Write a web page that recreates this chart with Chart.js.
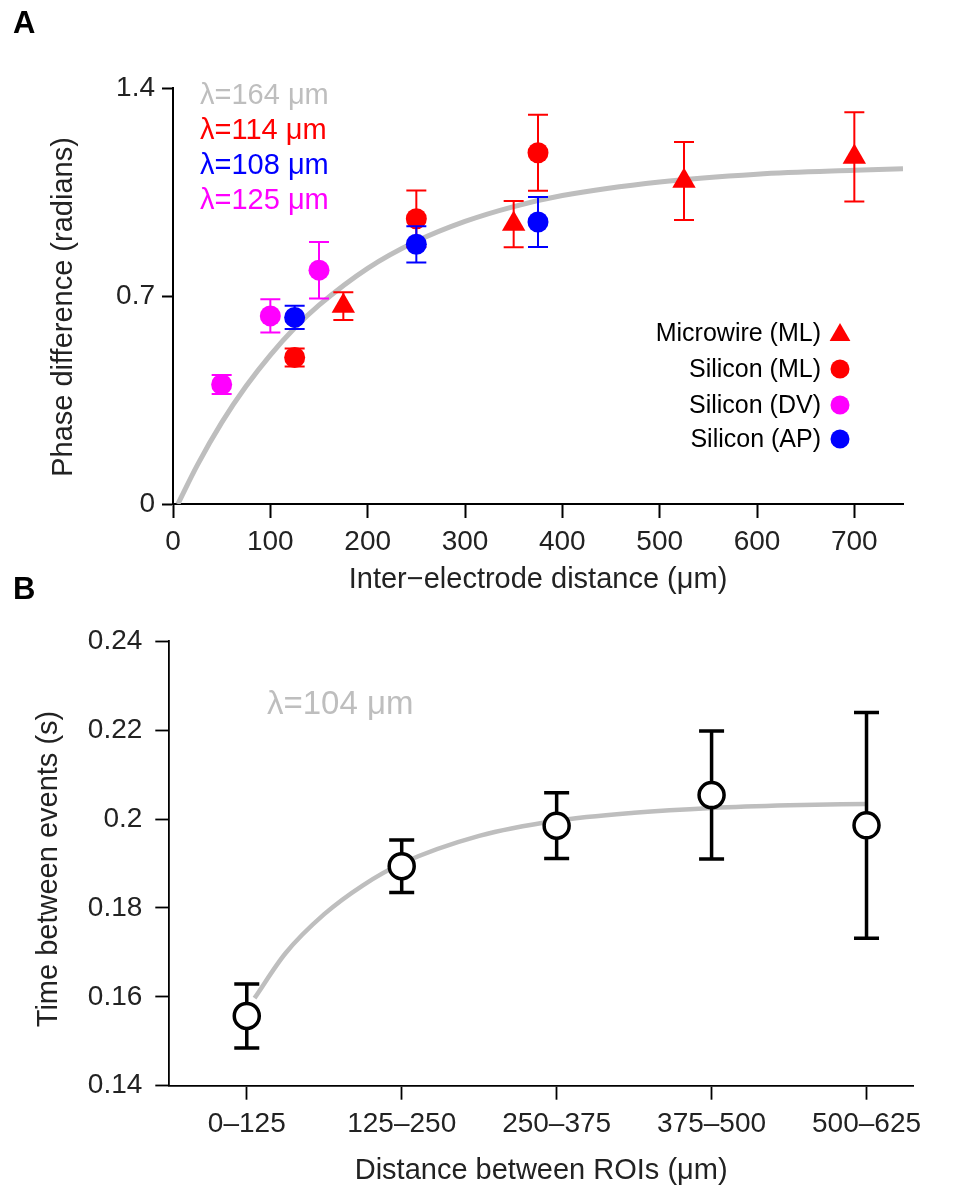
<!DOCTYPE html>
<html>
<head>
<meta charset="utf-8">
<script src="https://cdn.jsdelivr.net/npm/chart.js@4.4.1/dist/chart.umd.min.js"></script>
<style>
  body { margin: 0; background: #fff; }
  #wrap { position: relative; width: 978px; height: 1198px; }
  canvas { position: absolute; left: 0; }
  #chartA { top: 0; }
  #chartB { top: 600px; }
</style>
</head>
<body>
<div id="wrap">
  <canvas id="chartA" width="978" height="600"></canvas>
  <canvas id="chartB" width="978" height="598"></canvas>
</div>
<script>
// ---- panel A data ----
const aTicksX = [0, 100, 200, 300, 400, 500, 600, 700];
const aTicksY = [0, 0.7, 1.4];
const aTickLabelsY = ['0', '0.7', '1.4'];

const microDist = [175, 350, 525, 700];
const microPhase = [0.666, 0.942, 1.087, 1.168];
const microErr = [0.047, 0.078, 0.131, 0.15];

const siMLDist = [125, 250, 375];
const siMLPhase = [0.493, 0.96, 1.182];
const siMLErr = [0.03, 0.095, 0.128];

const siDVDist = [50, 100, 150];
const siDVPhase = [0.402, 0.633, 0.787];
const siDVErr = [0.032, 0.056, 0.095];

const siAPDist = [125, 250, 375];
const siAPPhase = [0.628, 0.874, 0.949];
const siAPErr = [0.039, 0.061, 0.084];

// grey fit curve
const fitADist = [5, 25, 50, 75, 100, 125, 150, 200, 250, 300, 350, 400, 500, 600, 700, 750];
const fitAPhase = [0, 0.131, 0.274, 0.396, 0.501, 0.592, 0.669, 0.793, 0.884, 0.951, 1.001, 1.038, 1.084, 1.11, 1.123, 1.128];

const lambdaTextA = ['λ=164 μm', 'λ=114 μm', 'λ=108 μm', 'λ=125 μm'];

// ---- panel B data ----
const bCategories = ['0–125', '125–250', '250–375', '375–500', '500–625'];
const bTime = [0.1557, 0.1894, 0.1985, 0.2054, 0.1986];
const bErr = [0.0072, 0.0059, 0.0074, 0.0144, 0.0254];
const bTicksY = [0.14, 0.16, 0.18, 0.2, 0.22, 0.24];
const bTickLabelsY = ['0.14', '0.16', '0.18', '0.2', '0.22', '0.24'];

const fitBPos = [0.05, 0.25, 0.5, 0.75, 1, 1.5, 2, 2.5, 3, 3.5, 4];
const fitBTime = [0.1597, 0.1698, 0.1786, 0.1851, 0.19, 0.1962, 0.1996, 0.2014, 0.2025, 0.2031, 0.2034];

const lambdaTextB = 'λ=104 μm';

const FONT = '"Liberation Sans", Arial, Helvetica, sans-serif';
const RED = '#ff0000', BLUE = '#0000ff', MAGENTA = '#ff00ff', GREY = '#bebebe', INK = '#222';
Chart.defaults.font.family = FONT;

function toPts(xs, ys) {
    return xs.map((x, i) => ({ x: x, y: ys[i] }));
}

// error bars drawn just before each dataset's points
const errorBars = {
    id: 'errorBars',
    beforeDatasetDraw(chart, args) {
        const ds = chart.data.datasets[args.index];
        if (!ds.errors) return;
        const ctx = chart.ctx;
        const xs = chart.scales.x, ys = chart.scales.y;
        ctx.save();
        ctx.strokeStyle = ds.errColor;
        ctx.lineWidth = ds.errWidth;
        ds.data.forEach((p, i) => {
            const px = xs.getPixelForValue(p.x);
            const top = ys.getPixelForValue(p.y + ds.errors[i]);
            const bot = ys.getPixelForValue(p.y - ds.errors[i]);
            ctx.beginPath();
            ctx.moveTo(px, top); ctx.lineTo(px, bot);
            ctx.moveTo(px - ds.capHalf, top); ctx.lineTo(px + ds.capHalf, top);
            ctx.moveTo(px - ds.capHalf, bot); ctx.lineTo(px + ds.capHalf, bot);
            ctx.stroke();
        });
        ctx.restore();
    }
};

function verticalTitle(ctx, text, x, y) {
    ctx.save();
    ctx.translate(x, y);
    ctx.rotate(-Math.PI / 2);
    ctx.textAlign = 'center';
    ctx.textBaseline = 'alphabetic';
    ctx.fillText(text, 0, 0);
    ctx.restore();
}

const notesA = {
    id: 'notesA',
    afterDraw(chart) {
        const ctx = chart.ctx;
        ctx.save();
        ctx.fillStyle = '#000';
        ctx.font = 'bold 31px ' + FONT;
        ctx.textAlign = 'left';
        ctx.textBaseline = 'alphabetic';
        ctx.fillText('A', 13, 33);
        ctx.fillText('B', 13, 599);

        ctx.fillStyle = INK;
        ctx.font = '29px ' + FONT;
        verticalTitle(ctx, 'Phase difference (radians)', 72, 307);

        // lambda values
        const lamColors = [GREY, RED, BLUE, MAGENTA];
        const lamBase = [104, 139, 174, 209];
        ctx.font = '29px ' + FONT;
        ctx.textAlign = 'left';
        lambdaTextA.forEach((t, i) => {
            ctx.fillStyle = lamColors[i];
            ctx.fillText(t, 200, lamBase[i]);
        });

        // legend: text right-aligned, marker on the right
        const rows = [341, 377, 413, 447];
        ctx.font = '25px ' + FONT;
        ctx.textAlign = 'right';
        for (let i = 0; i < 4; i++) {
            const ds = chart.data.datasets[i];
            ctx.fillStyle = '#000';
            ctx.fillText(ds.label, 821, rows[i]);
            ctx.fillStyle = ds.pointBackgroundColor;
            const tri = ds.pointStyle === 'triangle';
            Chart.helpers.drawPoint(ctx, {
                pointStyle: ds.pointStyle,
                radius: tri ? 12 : 9.5,
                borderWidth: 0,
                rotation: 0
            }, 840, rows[i] - (tri ? 6 : 8));
        }
        ctx.restore();
    }
};

const notesB = {
    id: 'notesB',
    afterDraw(chart) {
        const ctx = chart.ctx;
        ctx.save();
        ctx.fillStyle = INK;
        ctx.font = '29px ' + FONT;
        verticalTitle(ctx, 'Time between events (s)', 57, 269);
        ctx.fillStyle = GREY;
        ctx.font = '33px ' + FONT;
        ctx.textAlign = 'left';
        ctx.textBaseline = 'alphabetic';
        ctx.fillText(lambdaTextB, 267, 114);
        ctx.restore();
    }
};

function pointSet(label, xs, ys, errs, color, style, radius, order) {
    return {
        label: label,
        data: toPts(xs, ys),
        showLine: false,
        pointStyle: style,
        pointRadius: radius,
        pointBackgroundColor: color,
        pointBorderWidth: 0,
        borderColor: color,
        order: order,
        errors: errs,
        errColor: color,
        errWidth: 2,
        capHalf: 10
    };
}

function axisLook(tickLen, width) {
    return {
        border: { display: true, color: '#000', width: width },
        grid: { drawOnChartArea: false, drawTicks: true, tickLength: tickLen, tickWidth: width, tickColor: '#000' }
    };
}

new Chart(document.getElementById('chartA'), {
    type: 'scatter',
    data: {
        datasets: [
            pointSet('Microwire (ML)', microDist, microPhase, microErr, RED, 'triangle', 13.5, 4),
            pointSet('Silicon (ML)', siMLDist, siMLPhase, siMLErr, RED, 'circle', 10.5, 3),
            pointSet('Silicon (DV)', siDVDist, siDVPhase, siDVErr, MAGENTA, 'circle', 10.5, 2),
            pointSet('Silicon (AP)', siAPDist, siAPPhase, siAPErr, BLUE, 'circle', 10.5, 1),
            {
                label: 'fit',
                data: toPts(fitADist, fitAPhase),
                showLine: true,
                borderColor: GREY,
                borderWidth: 5,
                pointRadius: 0,
                cubicInterpolationMode: 'monotone',
                order: 10
            }
        ]
    },
    options: {
        responsive: false,
        animation: false,
        events: [],
        layout: { padding: { top: 88, right: 75, left: 0, bottom: 0 } },
        plugins: { legend: { display: false }, tooltip: { enabled: false } },
        scales: {
            x: Object.assign(axisLook(14, 2), {
                type: 'linear',
                min: 0,
                max: 750,
                afterBuildTicks: ax => { ax.ticks = aTicksX.map(v => ({ value: v })); },
                afterFit: ax => { ax.height = 96; },
                ticks: { font: { size: 28 }, color: INK, padding: 7, maxRotation: 0, autoSkip: false },
                title: { display: true, text: 'Inter−electrode distance (μm)', font: { size: 29 }, color: INK, padding: { top: 0, bottom: 3 } }
            }),
            y: Object.assign(axisLook(11, 2), {
                type: 'linear',
                min: 0,
                max: 1.4,
                afterBuildTicks: ax => { ax.ticks = aTicksY.map(v => ({ value: v })); },
                afterFit: ax => { ax.width = 173; },
                ticks: { font: { size: 28 }, color: INK, padding: 7, callback: (v, i) => aTickLabelsY[i] }
            })
        }
    },
    plugins: [errorBars, notesA]
});

new Chart(document.getElementById('chartB'), {
    type: 'scatter',
    data: {
        datasets: [
            {
                label: 'Time between events',
                data: toPts(bCategories.map((c, i) => i), bTime),
                showLine: false,
                pointStyle: 'circle',
                pointRadius: 12.5,
                pointBackgroundColor: '#fff',
                pointBorderColor: '#000',
                pointBorderWidth: 3.5,
                order: 1,
                errors: bErr,
                errColor: '#000',
                errWidth: 3.5,
                capHalf: 12.5
            },
            {
                label: 'fit',
                data: toPts(fitBPos, fitBTime),
                showLine: true,
                borderColor: GREY,
                borderWidth: 4.5,
                pointRadius: 0,
                cubicInterpolationMode: 'monotone',
                order: 10
            }
        ]
    },
    options: {
        responsive: false,
        animation: false,
        events: [],
        layout: { padding: { top: 41.3, right: 65, left: 0, bottom: 0 } },
        plugins: { legend: { display: false }, tooltip: { enabled: false } },
        scales: {
            x: Object.assign(axisLook(14, 1.8), {
                type: 'linear',
                min: -0.5,
                max: 4.3,
                afterBuildTicks: ax => { ax.ticks = bCategories.map((c, i) => ({ value: i })); },
                afterFit: ax => { ax.height = 112.3; },
                ticks: { font: { size: 28 }, color: INK, padding: 8, maxRotation: 0, autoSkip: false, callback: (v, i) => bCategories[i] },
                title: { display: true, text: 'Distance between ROIs (μm)', font: { size: 29 }, color: INK, padding: { top: 0, bottom: 10 } }
            }),
            y: Object.assign(axisLook(14, 1.8), {
                type: 'linear',
                min: 0.14,
                max: 0.24,
                afterBuildTicks: ax => { ax.ticks = bTicksY.map(v => ({ value: v })); },
                afterFit: ax => { ax.width = 169.3; },
                ticks: { font: { size: 28 }, color: INK, padding: 13, callback: (v, i) => bTickLabelsY[i] }
            })
        }
    },
    plugins: [errorBars, notesB]
});
</script>
</body>
</html>
